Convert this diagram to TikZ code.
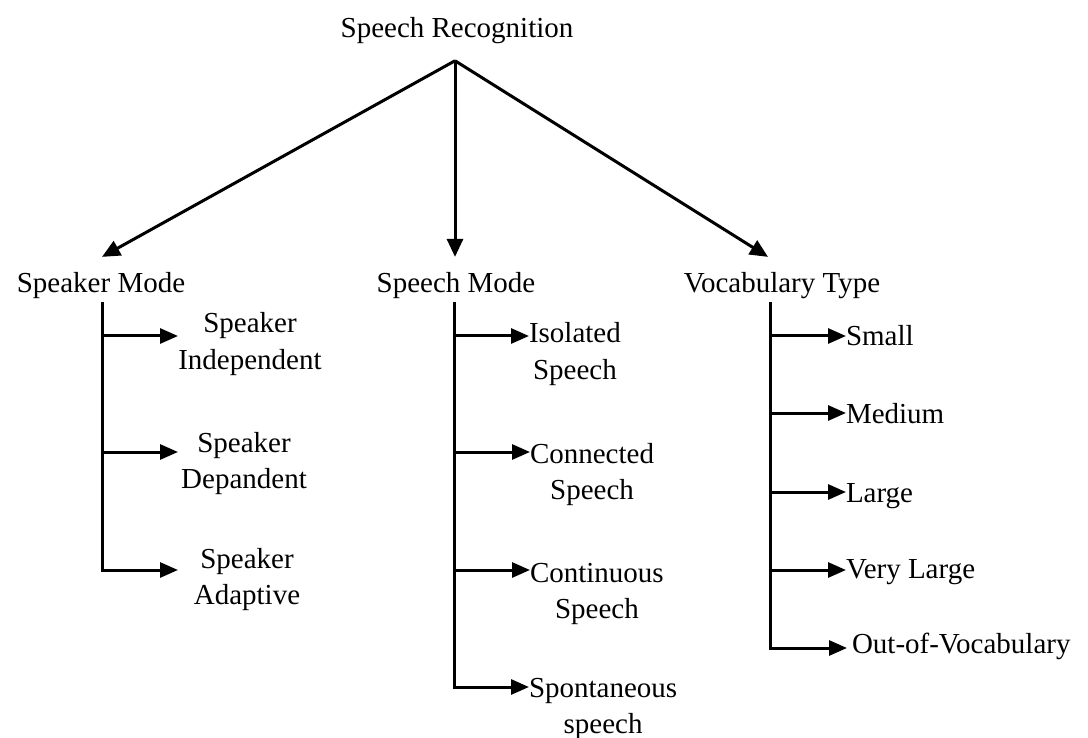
\documentclass[tikz,border=0pt]{standalone}
\usepackage{fontspec}
\setmainfont{Liberation Serif}
\usetikzlibrary{arrows.meta,calc}

\tikzset{
  lbl/.style={inner sep=0pt, outer sep=0pt, font=\fontsize{29}{36.5}\selectfont},
  link/.style={line width=3pt, -{Triangle[length=18pt,width=16pt]}},
  branch/.style={line width=3pt, -{Triangle[length=18pt,width=15pt]}}
}
\newcommand{\twoline}[2]{\begin{tabular}[t]{@{}c@{}}#1\\#2\end{tabular}}

\begin{document}
\begin{tikzpicture}[x=1pt, y=-1pt]
  \useasboundingbox[fill=white] (0,0) rectangle (1088,738);

  % root and the three categories
  \node[lbl, anchor=base] (root) at (457,38) {Speech Recognition};
  \node[lbl, anchor=base] (spk)  at (101,293) {Speaker Mode};
  \node[lbl, anchor=base] (sme)  at (456,293) {Speech Mode};
  \node[lbl, anchor=base] (voc)  at (782,293) {Vocabulary Type};

  \coordinate (apex) at ([xshift=-2pt,yshift=-16.5pt]root.south);
  \draw[link] (apex) -- ([xshift=1pt,yshift=16pt]spk.north);
  \draw[link] (apex) -- ([xshift=-1pt,yshift=16pt]sme.north);
  \draw[link] (apex) -- ([xshift=-14pt,yshift=16pt]voc.north);

  % speaker mode
  \node[lbl, anchor=base] (spi) at (250,333) {\twoline{Speaker}{Independent}};
  \node[lbl, anchor=base] (spd) at (244,452) {\twoline{Speaker}{Depandent}};
  \node[lbl, anchor=base] (spa) at (247,568) {\twoline{Speaker}{Adaptive}};
  \coordinate (spkT) at ([xshift=1pt,yshift=-3pt]spk.south);
  \draw[branch] (spkT) |- (178,336);
  \draw[branch] (spkT) |- (178,452);
  \draw[branch] (spkT) |- (178,570);

  % speech mode
  \node[lbl, anchor=base west] (iso) at (529,343) {\twoline{Isolated}{Speech}};
  \node[lbl, anchor=base west] (con) at (530,463) {\twoline{Connected}{Speech}};
  \node[lbl, anchor=base west] (cnt) at (530,582) {\twoline{Continuous}{Speech}};
  \node[lbl, anchor=base west] (spo) at (529,697) {\twoline{Spontaneous}{speech}};
  \coordinate (smeT) at ([xshift=-2pt,yshift=-3pt]sme.south);
  \draw[branch] (smeT) |- ([yshift=7pt]iso.base west);
  \draw[branch] (smeT) |- ([yshift=11pt]con.base west);
  \draw[branch] (smeT) |- ([yshift=12pt]cnt.base west);
  \draw[branch] (smeT) |- ([yshift=10pt]spo.base west);

  % vocabulary type
  \node[lbl, anchor=base west] (sml) at (846,345) {Small};
  \node[lbl, anchor=base west] (med) at (846,423) {Medium};
  \node[lbl, anchor=base west] (lrg) at (846,502) {Large};
  \node[lbl, anchor=base west] (vlg) at (846,578) {Very Large};
  \node[lbl, anchor=base west] (oov) at (852,653) {Out-of-Vocabulary};
  \coordinate (vocT) at ([xshift=-12pt,yshift=-3pt]voc.south);
  \draw[branch] (vocT) |- ([yshift=9pt]sml.base west);
  \draw[branch] (vocT) |- ([yshift=10pt]med.base west);
  \draw[branch] (vocT) |- ([yshift=10pt]lrg.base west);
  \draw[branch] (vocT) |- ([yshift=8pt]vlg.base west);
  \draw[branch] (vocT) |- ([xshift=-5pt,yshift=5pt]oov.base west);
\end{tikzpicture}
\end{document}
